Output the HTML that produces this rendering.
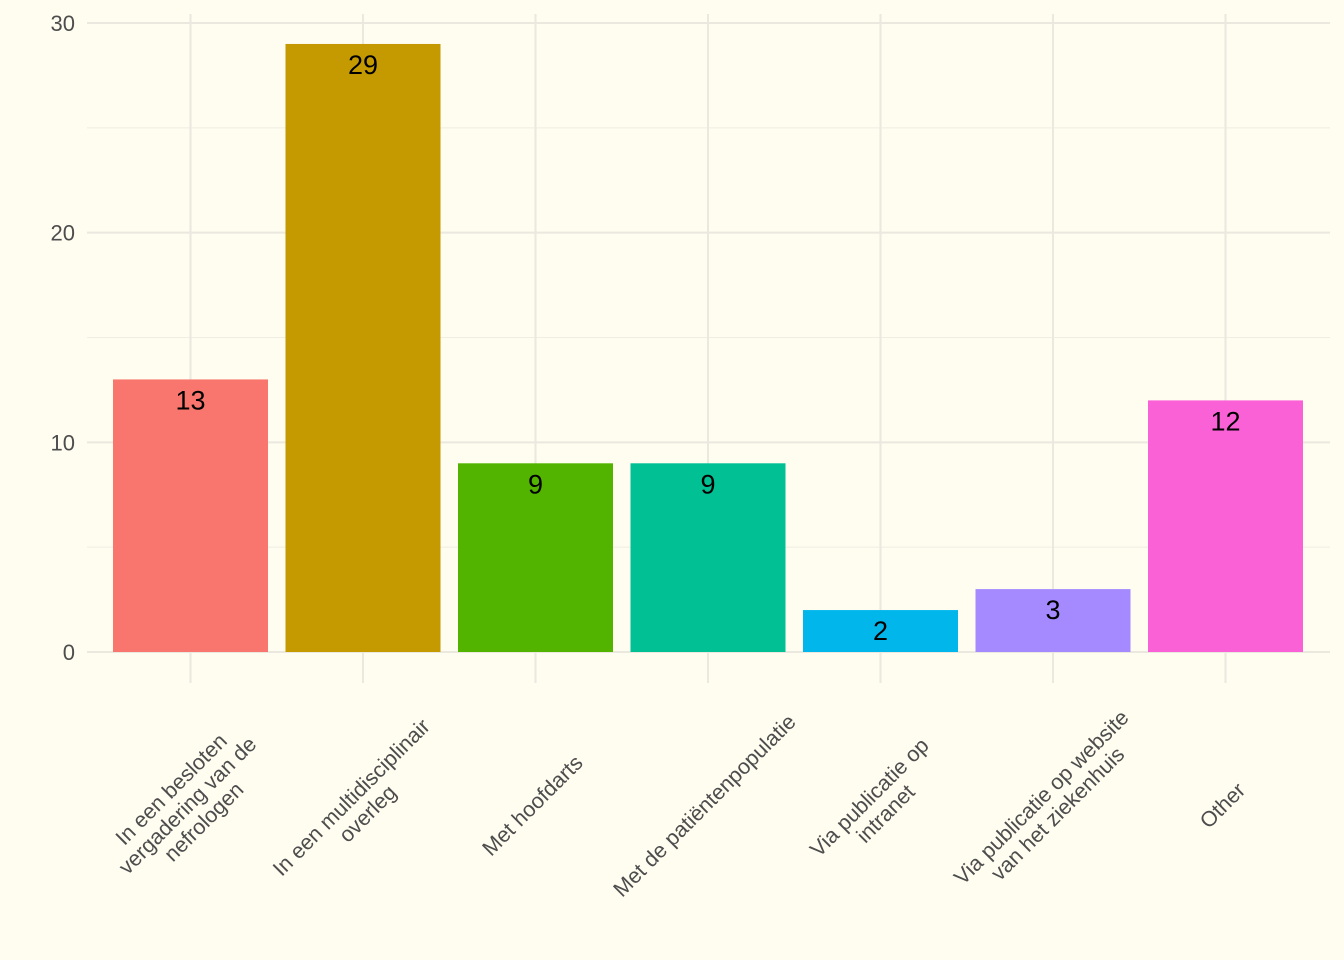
<!DOCTYPE html>
<html><head><meta charset="utf-8"><style>
body{margin:0;background:#FFFCF0;font-family:"Liberation Sans",sans-serif;}
#wrap{position:relative;width:1344px;height:960px;overflow:hidden;background:#FFFCF0;}
.xl{position:absolute;font-size:21.5px;color:#4d4d4d;text-align:center;white-space:nowrap;line-height:23px;transform:translate(-50%,-50%) rotate(-45deg);}
</style></head><body>
<div id="wrap">
<svg id="svg" width="1344" height="960"></svg>
</div>
<script>
const categories=["In een besloten<br>vergadering van de<br>nefrologen","In een multidisciplinair<br>overleg","Met hoofdarts","Met de patiëntenpopulatie","Via publicatie op<br>intranet","Via publicatie op website<br>van het ziekenhuis","Other"];
const values=[13,29,9,9,2,3,12];
const colors=["#F8766D","#C49A00","#53B400","#00C094","#00B6EB","#A58AFF","#FB61D7"];
const yTicks=[0,10,20,30];
const yMinor=[5,15,25];
const NS="http://www.w3.org/2000/svg";
const svg=document.getElementById('svg');
const wrap=document.getElementById('wrap');
const y=v=>652-v*(652-23)/30;
const x=i=>190.5+i*172.5;
const bw=155;
function el(t,a){const e=document.createElementNS(NS,t);for(const k in a)e.setAttribute(k,a[k]);svg.appendChild(e);return e;}
yMinor.forEach(v=>{const l=el('line',{x1:87,x2:1330,y1:y(v),y2:y(v),stroke:'#EFEDE4','stroke-width':1});

});
yTicks.forEach(v=>{const l=el('line',{x1:87,x2:1330,y1:y(v),y2:y(v),stroke:'#EAE8DF','stroke-width':2});


const t=el('text',{x:75,y:y(v)+8,'text-anchor':'end','font-size':22,fill:'#4d4d4d','font-family':'Liberation Sans, sans-serif'});t.textContent=v;

});
values.forEach((v,i)=>{const l=el('line',{x1:x(i),x2:x(i),y1:14,y2:683,stroke:'#EAE8DF','stroke-width':2});

});
values.forEach((v,i)=>{const r=el('rect',{x:x(i)-bw/2,y:y(v),width:bw,height:y(0)-y(v),fill:colors[i]});


const t=el('text',{x:x(i),y:y(v)+30,'text-anchor':'middle','font-size':27,fill:'#000','font-family':'Liberation Sans, sans-serif'});t.textContent=v;


const d=document.createElement('div');d.className='xl';d.innerHTML=categories[i];
d.style.left=(x(i)-3)+'px';d.style.top='806px';


wrap.appendChild(d);});
</script>
</body></html>
